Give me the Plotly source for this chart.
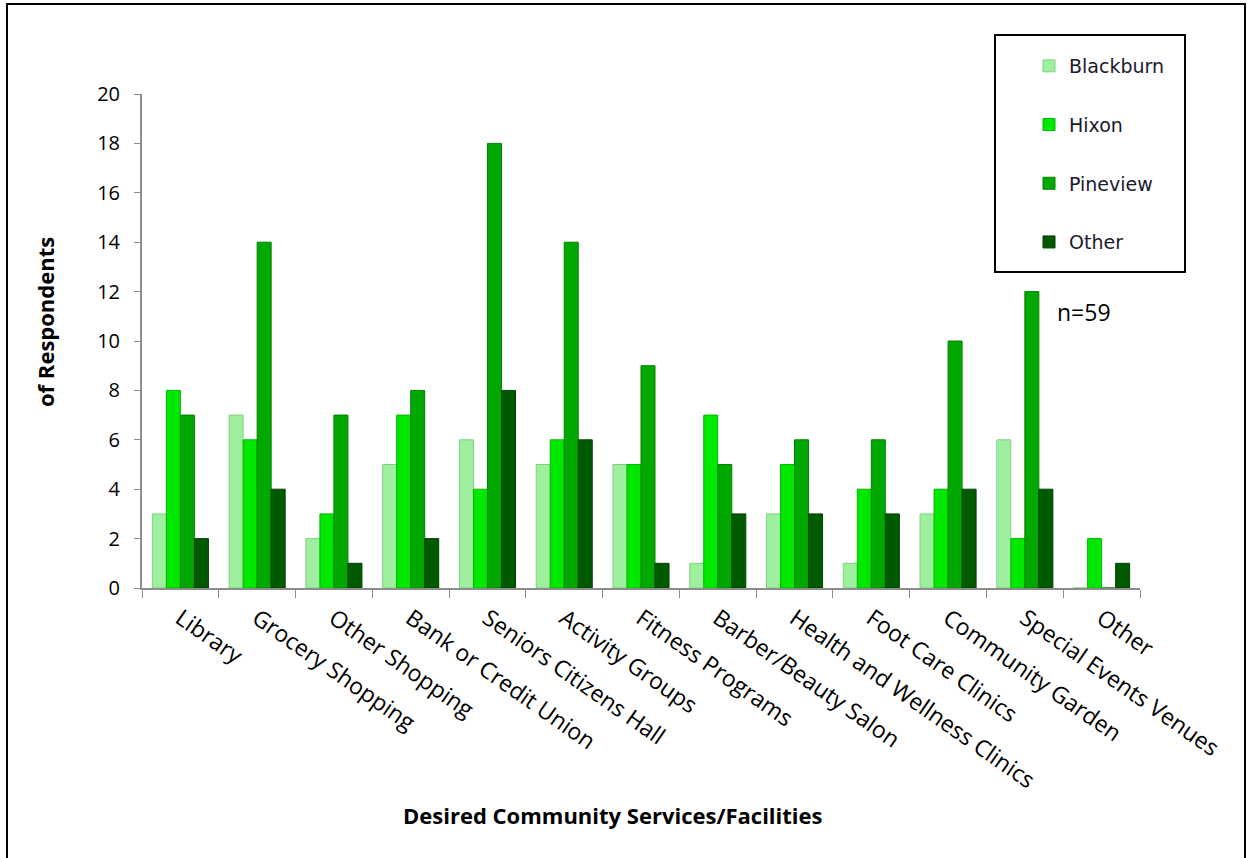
import plotly.graph_objects as go

categories = [
    "Library", "Grocery Shopping", "Other Shopping", "Bank or Credit Union",
    "Seniors Citizens Hall", "Activity Groups", "Fitness Programs",
    "Barber/Beauty Salon", "Health and Wellness Clinics", "Foot Care Clinics",
    "Community Garden", "Special Events Venues", "Other",
]
blackburn = [3, 7, 2, 5, 6, 5, 5, 1, 3, 1, 3, 6, 0]
hixon = [8, 6, 3, 7, 4, 6, 5, 7, 5, 4, 4, 2, 2]
pineview = [7, 14, 7, 8, 18, 14, 9, 5, 6, 6, 10, 12, 0]
other = [2, 4, 1, 2, 8, 6, 1, 3, 3, 3, 4, 4, 1]
y_ticks = list(range(0, 21, 2))

W, H = 1247, 858
L, R, T, B = 142, 1140, 94, 588  # plot area in pixels


def px_x(p):
    return (p - L) / (R - L)


def px_y(p):
    return (B - p) / (B - T)


series = [
    ("Blackburn", blackburn, "#9ef09e", "#80d080"),
    ("Hixon", hixon, "#00e800", "#00b800"),
    ("Pineview", pineview, "#00a800", "#008000"),
    ("Other", other, "#005a00", "#004000"),
]

fig = go.Figure()
for name, vals, color, edge in series:
    fig.add_trace(go.Bar(
        x=categories, y=vals, name=name,
        marker=dict(color=color, line=dict(color=edge, width=1)),
        legendgroup=name, hoverinfo="skip",
    ))

fig.update_layout(
    width=W, height=H,
    margin=dict(l=L, r=W - R, t=T, b=H - B),
    paper_bgcolor="white", plot_bgcolor="white",
    barmode="group", bargap=0.27, bargroupgap=0.0,
    font=dict(family="Open Sans, Liberation Sans, sans-serif", color="black"),
    xaxis=dict(
        type="category", tickangle=35, tickson="boundaries",
        ticks="outside", ticklen=8, tickcolor="#8c8c8c",
        showline=True, linecolor="#8c8c8c", linewidth=2,
        tickfont=dict(size=23, family="Open Sans, sans-serif"),
        ticklabelstandoff=6,
        showgrid=False, automargin=False,
    ),
    yaxis=dict(
        range=[0, 20], tickvals=y_ticks,
        ticks="outside", ticklen=6, tickcolor="#8c8c8c",
        showline=True, linecolor="#8c8c8c", linewidth=2,
        tickfont=dict(size=20, family="Open Sans, sans-serif"),
        ticklabelstandoff=10,
        showgrid=False, zeroline=False, automargin=False,
    ),
    legend=dict(
        x=px_x(1029), y=px_y(47), xanchor="left", yanchor="top",
        borderwidth=0, bgcolor="rgba(0,0,0,0)",
        font=dict(family="DejaVu Sans, sans-serif", size=19, color="#1a1a2e"),
        tracegroupgap=31,
    ),
    showlegend=True,
)

fig.add_annotation(
    text="<b>of Respondents</b>", textangle=-90, showarrow=False,
    xref="paper", yref="paper", x=px_x(28), y=px_y(322),
    font=dict(size=22, family="Open Sans, sans-serif", color="black"),
)
fig.add_annotation(
    text="<b>Desired Community Services/Facilities</b>", showarrow=False,
    xref="paper", yref="paper", x=px_x(613), y=px_y(815), yanchor="middle",
    font=dict(size=22, family="Open Sans, sans-serif", color="black"),
)
fig.add_annotation(
    text="n=59", showarrow=False, xanchor="left", yanchor="middle",
    xref="paper", yref="paper", x=px_x(1055), y=px_y(312),
    font=dict(size=23, family="Open Sans, sans-serif", color="black"),
)

# legend frame
fig.add_shape(
    type="rect", xref="paper", yref="paper",
    x0=px_x(995), x1=px_x(1185), y0=px_y(272), y1=px_y(35),
    line=dict(color="black", width=2), fillcolor="white", layer="below",
)
# outer frame
fig.add_shape(
    type="rect", xref="paper", yref="paper",
    x0=px_x(7), x1=px_x(1245), y0=px_y(880), y1=px_y(4),
    line=dict(color="black", width=2), layer="below",
)

fig.write_html("out.html")
